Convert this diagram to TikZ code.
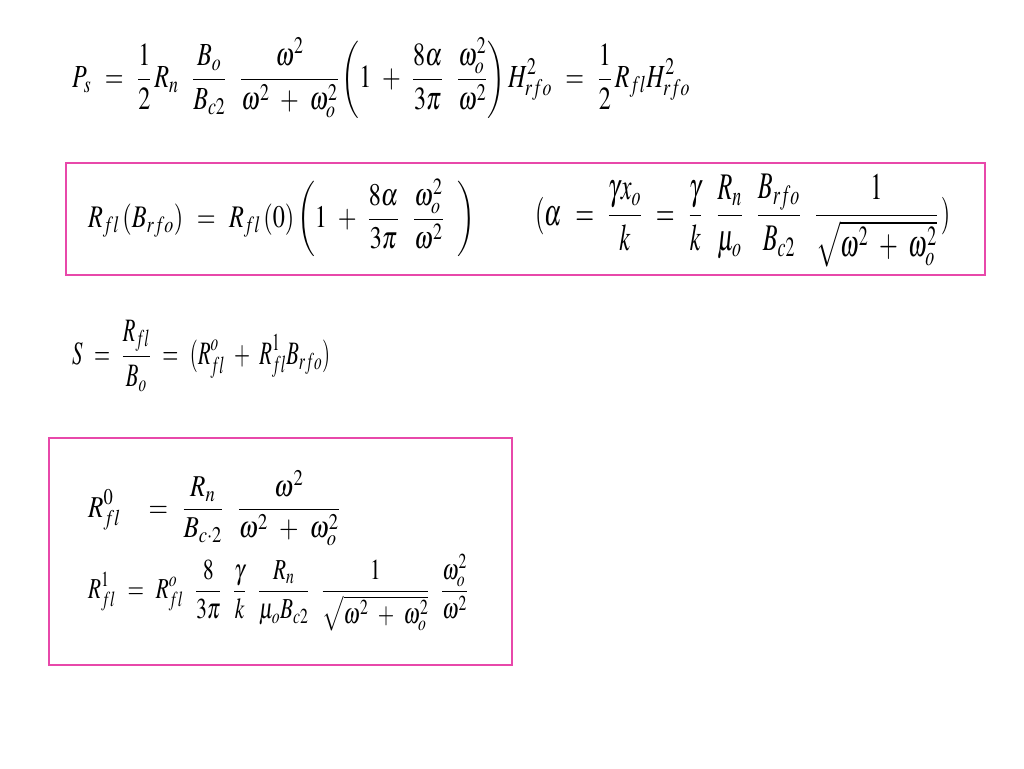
\documentclass[tikz,border=0pt]{standalone}
\usepackage{mathptmx}
\usepackage{amsmath}
\usepackage{graphicx}
\definecolor{pinkbox}{RGB}{232,72,170}
\tikzset{eq/.style={anchor=west,inner sep=0pt},box/.style={draw=pinkbox,line width=2.2pt}}
\newcommand{\fiteq}[3]{\resizebox*{#1pt}{#2pt}{\fontsize{22}{26}\selectfont\medmuskip=8mu\thickmuskip=10mu$\displaystyle #3$}}
\begin{document}
\begin{tikzpicture}[x=1pt,y=-1pt]
\useasboundingbox (0,0) rectangle (1024,768);
\fill[white] (0,0) rectangle (1024,768);
\draw[box] (66,163) rectangle (985,275);
\draw[box] (49,438) rectangle (512,665);
\node[eq] (e1) at (72,78) {\fiteq{618}{80}{P_s=\frac12\, R_n\;\frac{B_o}{B_{c2}}\;\frac{\omega^2}{\omega^2+\omega_o^2}\left(1+\frac{8\alpha}{3\pi}\;\frac{\omega_o^2}{\omega^2}\right)H_{rfo}^2=\frac12\, R_{fl}H_{rfo}^2}};
\node[eq] (e2) at (88,218) {\fiteq{387}{78}{R_{fl}\,(B_{rfo})=R_{fl}\,(0)\left(1+\frac{8\alpha}{3\pi}\;\frac{\omega_o^2}{\omega^2}\;\right)}};
\node[eq] (e3) at (535,221) {\fiteq{415}{93}{(\alpha=\frac{\gamma x_o}{k}=\frac{\gamma}{k}\;\frac{R_n}{\mu_o}\;\frac{B_{rfo}}{B_{c2}}\;\frac{1}{\sqrt{\omega^2+\omega_o^2}}\,)}};
\node[eq] (e4) at (72,356) {\fiteq{258}{72}{S=\frac{R_{fl}}{B_o}=(R_{fl}^o+R_{fl}^1B_{rfo})}};
\node[eq] (e5) at (88,508) {\fiteq{252}{75}{R_{fl}^0\;=\frac{R_n}{B_{c\cdot2}}\;\frac{\omega^2}{\omega^2+\omega_o^2}}};
\node[eq] (e6) at (88,593) {\fiteq{380}{77}{R_{fl}^1=R_{fl}^o\;\frac{8}{3\pi}\;\frac{\gamma}{k}\;\frac{R_n}{\mu_oB_{c2}}\;\frac{1}{\sqrt{\omega^2+\omega_o^2}}\;\frac{\omega_o^2}{\omega^2}}};
\end{tikzpicture}
\end{document}
